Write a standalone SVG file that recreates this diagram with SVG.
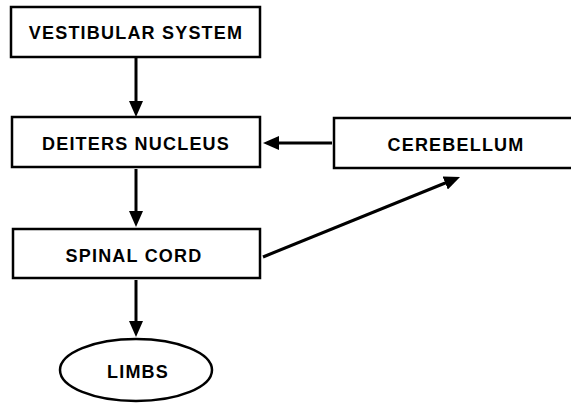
<svg xmlns="http://www.w3.org/2000/svg" width="571" height="403" viewBox="0 0 571 403">
<style>
.box{fill:#fff;stroke:#000;stroke-width:2.5}
.t{font-family:"Liberation Sans",Arial,sans-serif;font-weight:bold;font-size:18px;letter-spacing:1.2px;text-anchor:middle;fill:#000}
.c{stroke:#000;stroke-width:3;fill:none}
</style>
<defs>
<marker id="ah" viewBox="0 0 16 14" refX="8" refY="7" markerWidth="16" markerHeight="14" markerUnits="userSpaceOnUse" orient="auto">
<path d="M0,0 L16,7 L0,14 Z" fill="#000"/>
</marker>
</defs>
<rect width="571" height="403" fill="#fff"/>
<g id="vestibular"><rect class="box" x="11" y="7" width="249" height="50"/><text class="t" x="136" y="39">VESTIBULAR SYSTEM</text></g>
<g id="deiters"><rect class="box" x="12" y="117" width="248" height="50"/><text class="t" x="136" y="150">DEITERS NUCLEUS</text></g>
<g id="cerebellum"><rect class="box" x="334" y="118" width="240" height="50"/><text class="t" x="456" y="151">CEREBELLUM</text></g>
<g id="spinal"><rect class="box" x="13" y="229" width="247" height="49"/><text class="t" x="134" y="262">SPINAL CORD</text></g>
<g id="limbs"><ellipse class="box" cx="136" cy="370" rx="76" ry="31"/><text class="t" x="138" y="378">LIMBS</text></g>
<g id="connectors">
<line class="c" x1="136" y1="58" x2="136" y2="109" marker-end="url(#ah)"/>
<line class="c" x1="332" y1="143" x2="271" y2="143" marker-end="url(#ah)"/>
<line class="c" x1="136" y1="169" x2="136" y2="219" marker-end="url(#ah)"/>
<line class="c" x1="263" y1="257" x2="452.6" y2="180" marker-end="url(#ah)"/>
<line class="c" x1="136" y1="280" x2="136" y2="329" marker-end="url(#ah)"/>
</g>
</svg>
